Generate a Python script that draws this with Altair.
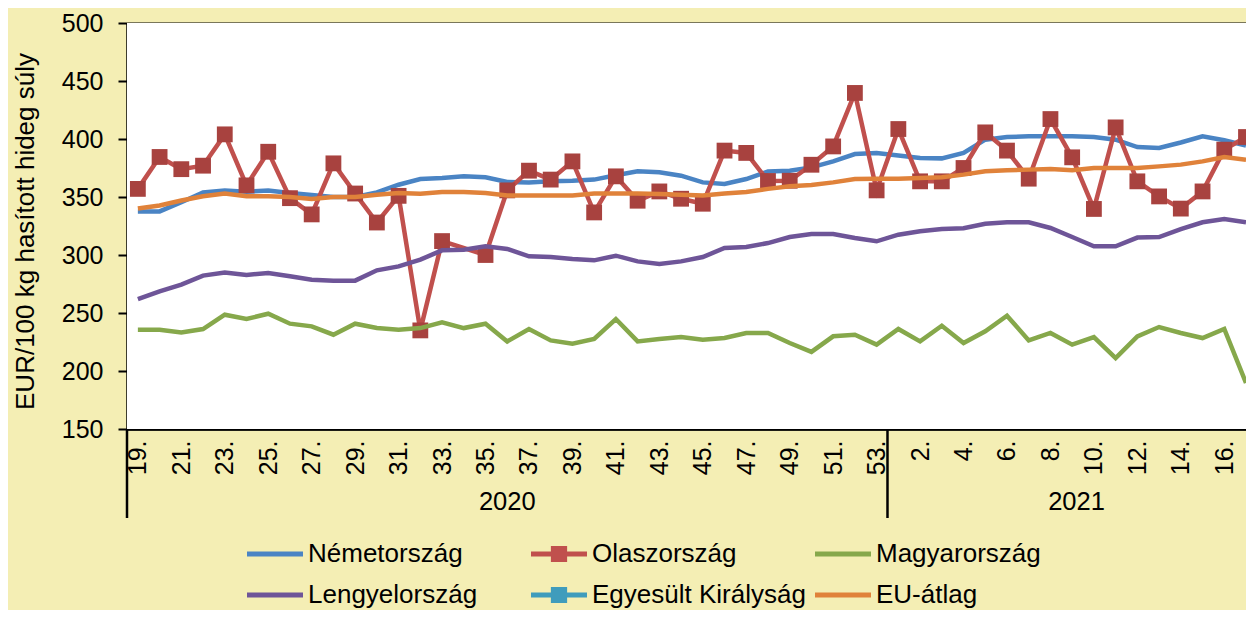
import json
import altair as alt
import pandas as pd

# ---------------- data ----------------
weeks_2020 = ["19.", "20.", "21.", "22.", "23.", "24.", "25.", "26.", "27.", "28.",
              "29.", "30.", "31.", "32.", "33.", "34.", "35.", "36.", "37.", "38.",
              "39.", "40.", "41.", "42.", "43.", "44.", "45.", "46.", "47.", "48.",
              "49.", "50.", "51.", "52.", "53."]
weeks_2021 = ["1.", "2.", "3.", "4.", "5.", "6.", "7.", "8.", "9.", "10.",
              "11.", "12.", "13.", "14.", "15.", "16.", "17."]
years = ["2020", "2021"]

nemetorszag = [337.6, 337.6, 345.5, 354.0, 355.7, 354.6, 355.5, 353.4, 351.7, 350.0,
               350.0, 354.0, 360.6, 365.5, 366.4, 367.8, 367.0, 363.0, 362.6, 363.5,
               364.0, 365.0, 368.7, 372.1, 371.3, 368.4, 362.6, 361.2, 365.5, 372.0,
               372.7, 375.5, 380.7, 387.0, 388.0,
               385.8, 383.6, 383.3, 388.0, 399.4, 401.7, 402.3, 402.3, 402.3, 401.7,
               399.4, 393.0, 392.2, 397.0, 402.3, 398.9, 394.3]
olaszorszag = [357.0, 384.5, 374.0, 377.0, 404.0, 360.0, 389.0, 349.0, 335.0, 379.0,
               353.0, 328.0, 351.0, 235.0, 312.0, None, 300.0, 355.7, 372.7, 365.0,
               380.7, 336.7, 367.8, 346.8, 354.8, 348.5, 344.2, 390.0, 388.0, 363.8,
               364.0, 377.8, 393.6, 439.7, 355.7,
               408.6, 363.5, 363.5, 375.0, 405.7, 390.0, 365.8, 417.2, 384.2, 339.7,
               410.0, 363.5, 350.5, 340.0, 354.8, 390.8, 401.7]
magyarorszag = [235.6, 235.6, 233.3, 236.2, 248.5, 244.8, 249.4, 240.8, 238.5, 231.3,
                240.8, 237.0, 235.6, 237.0, 241.9, 237.0, 240.8, 225.5, 236.2, 226.4,
                223.5, 227.6, 244.8, 225.5, 227.6, 229.3, 227.0, 228.4, 232.8, 232.8,
                224.1, 216.5, 229.9, 231.3, 222.7,
                236.2, 225.5, 239.0, 224.1, 234.2, 247.7, 226.4, 232.8, 222.7, 229.3,
                211.2, 229.9, 237.9, 232.8, 228.4, 236.2, 189.7]
lengyelorszag = [262.0, 268.7, 274.4, 282.2, 285.0, 282.8, 284.5, 281.6, 278.7, 277.9,
                 277.9, 286.8, 290.2, 296.0, 304.0, 304.6, 307.5, 305.2, 298.9, 298.3,
                 296.6, 295.4, 299.4, 294.5, 292.2, 294.5, 298.3, 306.0, 306.9, 310.3,
                 315.5, 318.0, 318.1, 314.7, 311.8,
                 317.5, 320.4, 322.4, 323.0, 327.0, 328.2, 328.2, 323.3, 315.5, 307.5,
                 307.5, 315.0, 315.5, 322.4, 328.2, 331.0, 328.2]
egyesult_kiralysag = [None] * 52
eu_atlag = [340.0, 342.7, 347.0, 350.6, 352.9, 350.6, 350.6, 350.0, 348.3, 350.0,
            350.0, 352.0, 353.4, 352.9, 354.3, 354.3, 353.4, 351.4, 351.4, 351.4,
            351.4, 353.0, 353.0, 353.0, 352.6, 352.0, 351.4, 353.0, 354.3, 357.0,
            359.2, 360.3, 362.6, 365.5, 365.8,
            365.8, 366.4, 367.0, 369.3, 372.1, 373.0, 373.6, 374.2, 373.0, 375.0,
            375.0, 375.0, 376.4, 377.9, 380.7, 384.5, 382.2]

series_names = ["Németország", "Olaszország", "Magyarország",
                "Lengyelország", "Egyesült Királyság", "EU-átlag"]
series_values = [nemetorszag, olaszorszag, magyarorszag,
                 lengyelorszag, egyesult_kiralysag, eu_atlag]
series_colors = ["#4A84C4", "#C0504D", "#86A84B", "#6E5598", "#3F9CBC", "#E0823A"]
marker_series = ["Olaszország", "Egyesült Királyság"]
marker_color = "#A8423F"

# ---------------- build table ----------------
week_labels = weeks_2020 + weeks_2021
rows = []
for name, vals in zip(series_names, series_values):
    for i, v in enumerate(vals):
        rows.append({"idx": i, "week": week_labels[i], "series": name, "value": v})
df = pd.DataFrame(rows)

n2020 = len(weeks_2020)
year_df = pd.DataFrame({
    "year": years,
    "pos": [(n2020 - 1) / 2, n2020 - 0.5 + len(weeks_2021) / 2 + 0.2],
})
sep_df = pd.DataFrame({"pos": [-0.5, n2020 - 0.5]})

FONT = "Liberation Sans"
BG = "#F4EEB4"
PLOT_W, PLOT_H = 1119, 406

x_scale = alt.Scale(domain=[-0.5, len(week_labels) - 1], nice=False, zero=False)
y_scale = alt.Scale(domain=[150, 500], nice=False, zero=False)

x_axis = alt.Axis(
    values=list(range(0, len(week_labels), 2)),
    labelExpr=f"{json.dumps(week_labels)}[datum.value]",
    labelAngle=270, labelFont=FONT, labelFontSize=25, labelColor="black",
    labelPadding=11, labelOverlap=False, labelFlush=False, labelBound=False,
    ticks=False, tickSize=0, grid=False,
    domainColor="black", domainWidth=2.5, title=None,
)
y_axis = alt.Axis(
    values=[150, 200, 250, 300, 350, 400, 450, 500],
    grid=True, gridColor="black", gridWidth=2, gridOpacity=1,
    domainColor="black", domainWidth=2.5,
    tickColor="black", tickWidth=2, tickSize=9,
    labelFont=FONT, labelFontSize=25, labelColor="black", labelPadding=15,
    title="EUR/100 kg hasított hideg súly", titleFont=FONT, titleFontSize=26,
    titleFontWeight="normal", titleColor="black", titleAngle=270,
    titleX=-94, titleY=208, titleAlign="center", titleBaseline="alphabetic",
)
X = alt.X("idx:Q", scale=x_scale, axis=x_axis)
Y = alt.Y("value:Q", scale=y_scale, axis=y_axis)

base = alt.Chart(df)

# white plot area
plot_bg = alt.Chart(pd.DataFrame({"a": [0]})).mark_rect(color="white").encode(
    x=alt.value(0), x2=alt.value(PLOT_W), y=alt.value(0), y2=alt.value(PLOT_H)
)

layers = [plot_bg]
for name, col in zip(series_names, series_colors):
    sub = base.transform_filter(alt.datum.series == name).transform_filter(
        "isValid(datum.value)")
    layers.append(
        sub.mark_line(color=col, strokeWidth=4.5, clip=True).encode(x=X, y=Y)
    )
    if name in marker_series:
        layers.append(
            sub.mark_square(color=marker_color, size=250, opacity=1, clip=True)
            .encode(x=X, y=Y)
        )

# separators of the multi-level category axis
sep_layer = alt.Chart(sep_df).mark_rule(color="black", strokeWidth=2.5).encode(
    x=alt.X("pos:Q", scale=x_scale, axis=x_axis),
    y=alt.value(PLOT_H), y2=alt.value(PLOT_H + 89),
)
year_layer = alt.Chart(year_df).mark_text(
    font=FONT, fontSize=25.5, color="black", baseline="alphabetic", align="center"
).encode(
    x=alt.X("pos:Q", scale=x_scale, axis=x_axis),
    y=alt.value(PLOT_H + 81),
    text="year:N",
)

# legend carrier (no visible marks)
line_path = "M-1,-0.09H1V0.09H-1Z"
marker_path = "M-1,-0.09H1V0.09H-1Z M-0.29,-0.29H0.29V0.29H-0.29Z"
shape_range = [marker_path if n in marker_series else line_path for n in series_names]
legend_layer = base.transform_filter("false").mark_point(
    filled=True, opacity=1, size=3136
).encode(
    color=alt.Color("series:N", scale=alt.Scale(domain=series_names, range=series_colors),
                    legend=alt.Legend(title=None)),
    shape=alt.Shape("series:N", scale=alt.Scale(domain=series_names, range=shape_range),
                    legend=alt.Legend(title=None)),
)

chart = alt.layer(*layers, sep_layer, year_layer, legend_layer).properties(
    width=PLOT_W, height=PLOT_H,
    autosize=alt.AutoSizeParams(type="none"),
    padding={"left": 119, "top": 15, "right": 0, "bottom": 181},
    background=BG,
).configure_view(
    strokeWidth=0
).configure_legend(
    orient="none", legendX=120, legendY=503, columns=3, gridAlign="all",
    direction="horizontal",
    columnPadding=9, rowPadding=-18, padding=0,
    labelFont=FONT, labelFontSize=26, labelColor="black", labelOffset=5,
    labelLimit=400, symbolStrokeWidth=0, symbolOpacity=1, symbolSize=3136,
)

chart.save("out.html", embed_options={"renderer": "svg", "actions": False})
